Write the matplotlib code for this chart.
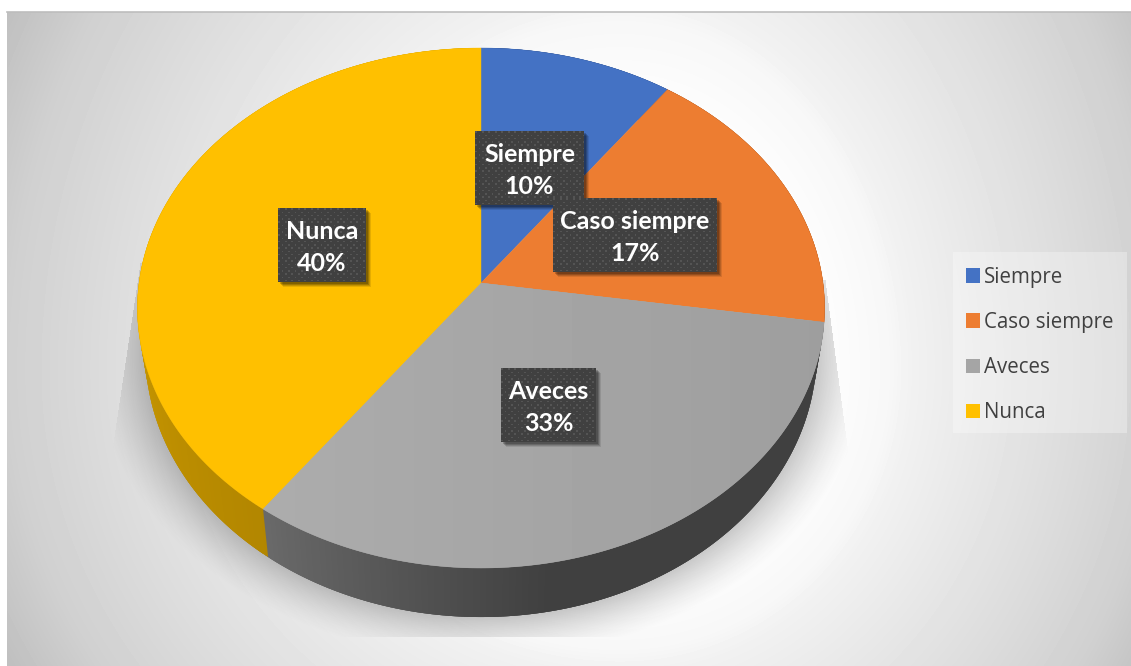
import numpy as np
import matplotlib
matplotlib.use("Agg")
import matplotlib.pyplot as plt
from matplotlib.collections import PolyCollection
from matplotlib.patches import Patch, Polygon, Rectangle

# datos de la grafica
categorias = ["Siempre", "Caso siempre", "Aveces", "Nunca"]
porcentajes = [10, 17, 33, 40]
valores = [10, 17.4, 32.6, 40]
colores = ["#4472C4", "#ED7D31", "#A5A5A5", "#FFC000"]

# caja de cada etiqueta en pixeles (x0, y0, x1, y1)
cajas = [(475, 131, 584, 205), (553, 198, 717, 272), (501, 368, 596, 442), (278, 208, 366, 282)]

W, H = 1131, 666
fig = plt.figure(figsize=(W / 100, H / 100), dpi=100, facecolor="white")
ax = fig.add_axes([0, 0, 1, 1])

# fondo con degradado
X0, Y0 = 7, 12
yy, xx = np.mgrid[Y0:H, X0:W]
ex = np.where(xx < 620, (620 - xx) / 613, (xx - 620) / 540)
ey = np.where(yy < 370, (370 - yy) / 700, (yy - 370) / 560)
e = np.sqrt(ex ** 2 + ey ** 2)
fondo = (255 - np.interp(e, [0.35, 0.5, 0.54, 0.84, 1.0, 1.12], [0, 8, 14, 35, 47, 63])) / 255
ax.imshow(fondo, cmap="gray", vmin=0, vmax=1, extent=(X0, W, H, Y0), aspect="auto", zorder=0)
ax.plot([X0, W], [Y0, Y0], color="#BDBDBD", lw=1.2, zorder=1)

# sombra proyectada detras del pastel
r = np.sqrt(((xx - 481) / 336) ** 2 + ((yy - 353) / 264) ** 2)
d = (r - 1) * 300
alfa = 0.27 * np.clip(1 - d / 48, 0, 1) ** 1.4
izq = 140 - (yy - 263) * 0.15
der = 825 + (yy - 280) * 23 / 173
alfa[(xx < izq) | (xx > der) | (yy < 263) | (yy > 636)] = 0
alfa[(xx > 481) & (yy < 280)] = 0
sombra = np.zeros(alfa.shape + (4,))
sombra[..., :3] = 0.22
sombra[..., 3] = alfa
ax.imshow(sombra, extent=(X0, W, H, Y0), aspect="auto", zorder=2)


# disco en perspectiva: angulo en grados desde arriba, sentido horario
def proyectar(ang, cx, cy, a, b, k=0.0962):
    th = np.radians(ang)
    u, v = np.sin(th), np.cos(th)
    w = 1 + k * v
    return cx + a * u / w, cy - b * v / w


SUP = (481, 283, 342, 257.6)
INF = (481, 327.6, 334, 261.6)

cortes = np.cumsum([0] + valores) / sum(valores) * 360


def tono(i, ang):
    # oscurecer el lateral segun la posicion
    if i == 2:
        return np.interp(ang, [97, 170, 216], [0.39, 0.39, 0.64])
    if i == 3:
        return np.interp(ang, [216, 275], [0.70, 0.80])
    return 0.6


# tiras del lateral, cada una pisa un poco la anterior para que no queden rayas
quads, cols = [], []
for i, c in enumerate(colores):
    rgb = np.array(matplotlib.colors.to_rgb(c))
    angs = np.arange(cortes[i], cortes[i + 1] + 0.01, 0.5)
    for a0 in angs[:-1]:
        a1 = a0 + 1.5
        x0, y0 = proyectar(a0, *SUP)
        x1, y1 = proyectar(a1, *SUP)
        x2, y2 = proyectar(a1, *INF)
        x3, y3 = proyectar(a0, *INF)
        quads.append([(x0, y0), (x1, y1), (x2, y2), (x3, y3)])
        cols.append(rgb * tono(i, a0 + 0.25))
ax.add_collection(PolyCollection(quads, facecolors=cols, edgecolors="none", linewidths=0, zorder=3))

for i, c in enumerate(colores):
    angs = np.linspace(cortes[i], cortes[i + 1], 200)
    px, py = proyectar(angs, *SUP)
    pts = [(SUP[0], SUP[1])] + list(zip(px, py))
    parche = Polygon(pts, closed=True, facecolor=c, edgecolor=c, lw=0.3, zorder=4)
    ax.add_patch(parche)
    if categorias[i] == "Aveces":
        # la rebanada gris se oscurece un poco hacia la derecha
        grad = np.interp(xx[0], [263, 820], [0.675, 0.62])[None, :]
        im = ax.imshow(grad, cmap="gray", vmin=0, vmax=1, extent=(X0, W, H, Y0), aspect="auto", zorder=4.5)
        im.set_clip_path(parche)

# etiquetas oscuras con puntos
for nombre, p, (x0, y0, x1, y1) in zip(categorias, porcentajes, cajas):
    for off, al in [(5, 0.10), (4, 0.14), (3, 0.18), (2, 0.2)]:
        ax.add_patch(Rectangle((x0 + off, y0 + off), x1 - x0, y1 - y0, facecolor="black", alpha=al, edgecolor="none", zorder=5))
    gy, gx = np.mgrid[y0:y1, x0:x1]
    gy, gx = gy - y0, gx - x0
    puntos = ((gx + 3.25 * (np.floor(gy / 3.25) % 2)) % 6.5 < 1.6) & (gy % 3.25 < 1.3)
    caja = np.where(puntos, 0.33, 0.25)
    ax.imshow(caja, cmap="gray", vmin=0, vmax=1, extent=(x0, x1, y1, y0), aspect="auto", interpolation="bilinear", zorder=6)
    ax.text((x0 + x1) / 2, (y0 + y1) / 2 + 2.5, f"{nombre}\n{p}%", color="white", fontsize=18, fontweight="bold",
            family="Lato", ha="center", va="center", linespacing=1.5, zorder=7)

# leyenda
ax.add_patch(Rectangle((953, 252), 174, 181, facecolor="white", alpha=0.3, edgecolor="none", zorder=7.5))
manejadores = [Patch(facecolor=c, edgecolor="none") for c in colores]
ley = ax.legend(manejadores, categorias, loc="upper left", bbox_to_anchor=(953, 254), bbox_transform=ax.transData,
                frameon=False, prop={"family": "Open Sans", "size": 14.8}, labelcolor="#404040",
                handlelength=0.69, handleheight=0.69, handletextpad=0.2,
                labelspacing=1.17, borderpad=0.62, borderaxespad=0)
ley.set_zorder(8)

ax.set_xlim(0, W)
ax.set_ylim(H, 0)
ax.axis("off")
fig.savefig("out.png", dpi=100, facecolor="white")
